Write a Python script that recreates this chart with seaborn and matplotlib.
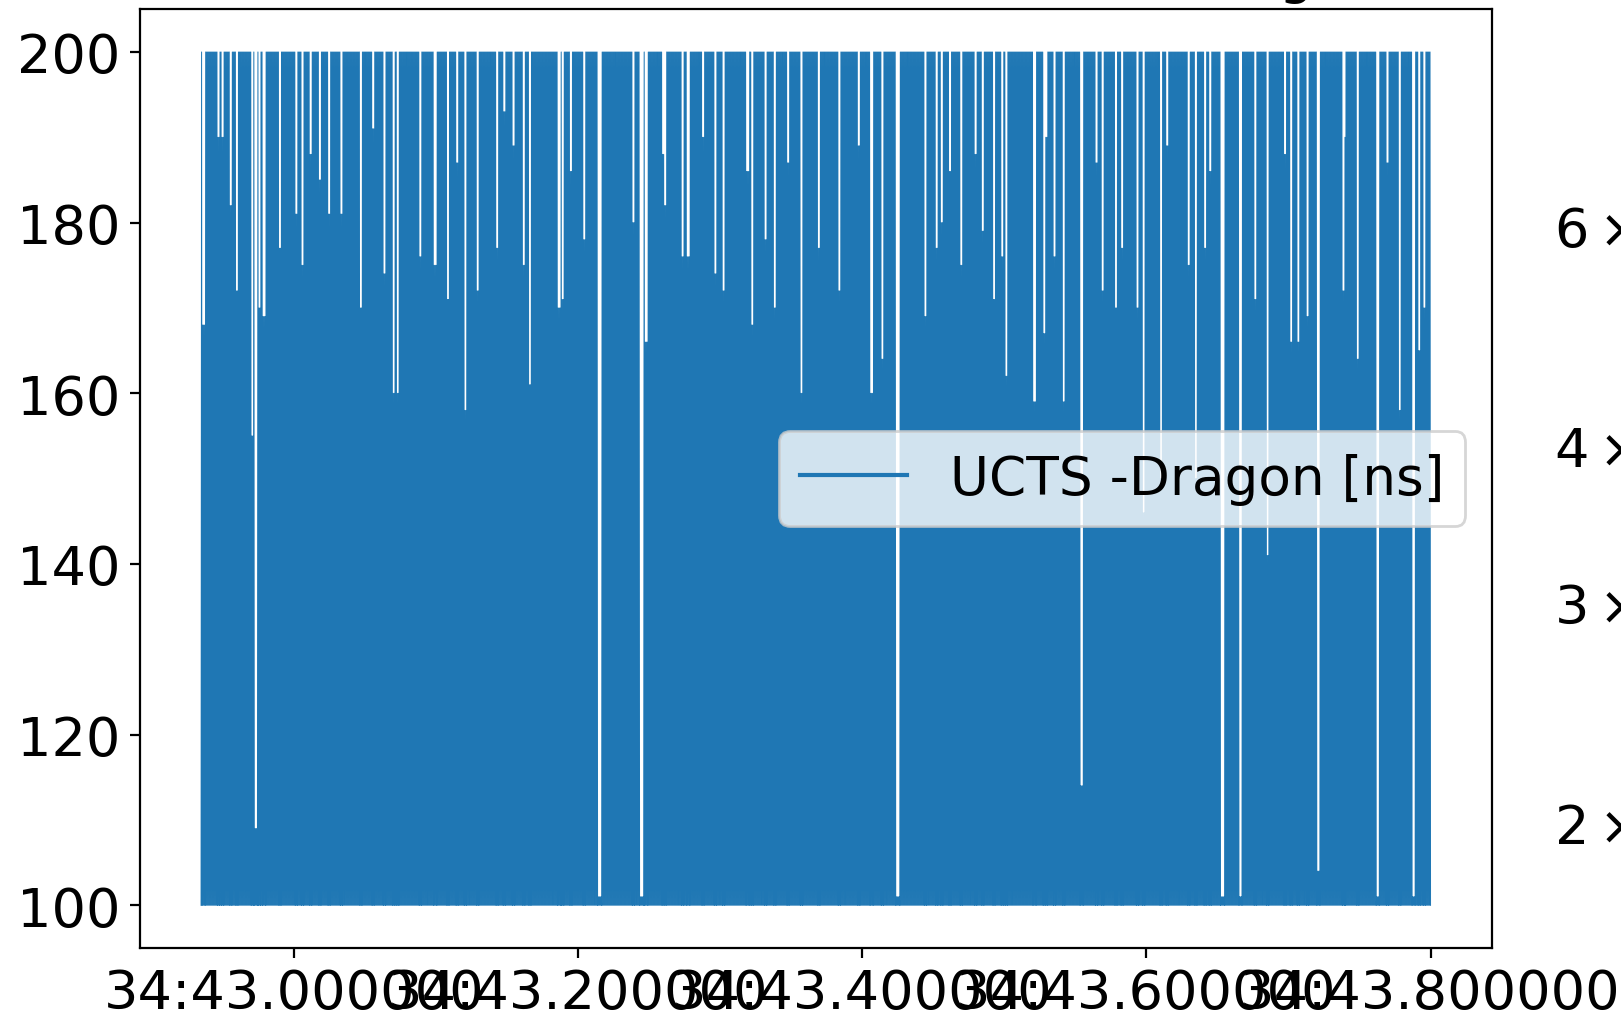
import numpy as np
import pandas as pd
import matplotlib
matplotlib.use("Agg")
import matplotlib.pyplot as plt
import seaborn as sns

# ------------------------------------------------------------------
# Data
# ------------------------------------------------------------------
t_first = "2019-11-21 23:34:42.9346"   # first sample
t_last = "2019-11-21 23:34:43.8000"    # last sample
n_peaks = 1200                          # estimated number of 100->200 excursions
level_low = 100                         # ns
level_high = 200                        # ns

# places (seconds within the minute) where the excursions do not reach 200 ns
notch_s = [42.9361, 42.9600, 42.9709, 42.9731, 42.9760, 42.9906, 43.0065,
           43.0254, 43.0472, 43.0705, 43.0734, 43.0995, 43.1213, 43.1431,
           43.1664, 43.1867, 43.2049, 43.2158, 43.2449, 43.2478, 43.2739,
           43.3030, 43.3321, 43.3575, 43.4069, 43.4251, 43.4447, 43.4701,
           43.4992, 43.5210, 43.5355, 43.5544, 43.5791, 43.5987, 43.6300,
           43.6539, 43.6663, 43.6859, 43.7026, 43.7208, 43.7390, 43.7629,
           43.7789, 43.7884, 43.7957,
           # finer streaks
           42.9471, 42.9560, 42.9788, 43.0020, 43.0183, 43.0340, 43.0642,
           43.0895, 43.1087, 43.1294, 43.1487, 43.1620, 43.1894, 43.2391,
           43.2614, 43.2777, 43.2970, 43.3192, 43.3228, 43.3385, 43.3696,
           43.3845, 43.4145, 43.4526, 43.4567, 43.4852, 43.4934, 43.5016,
           43.5288, 43.5423, 43.5696, 43.5832, 43.5941, 43.6104, 43.6349,
           43.6417, 43.6771, 43.7070, 43.7137, 43.7491, 43.7927,
           # shallow streaks along the top
           42.9500, 43.0120, 43.0560, 43.1150, 43.1550, 43.1950, 43.2600,
           43.2880, 43.3480, 43.3980, 43.4620, 43.4800, 43.5300, 43.5650,
           43.6150, 43.6450, 43.6980, 43.7400, 43.7700]
# highest value reached there (ns)
notch_peak = [168, 172, 155, 109, 170, 177, 175,
              181, 170, 160, 160, 175, 158, 177,
              161, 170, 178, 101, 101, 166, 176,
              172, 178, 160, 160, 101, 169, 175,
              176, 159, 176, 114, 170, 146, 175,
              101, 101, 141, 166, 104, 172, 101,
              158, 101, 170,
              190, 182, 169, 181, 185, 181, 174,
              176, 171, 172, 193, 175, 171, 180,
              182, 176, 174, 186, 168, 170, 177,
              172, 164, 177, 180, 179, 171, 162,
              167, 159, 172, 177, 170, 150, 150,
              177, 171, 166, 169, 164, 165,
              190, 188, 191, 187, 189, 186, 188,
              190, 187, 189, 186, 188, 190, 187,
              189, 186, 188, 190, 187]
# how many consecutive excursions are affected
notch_n = [3, 2, 2, 3, 2, 2, 2,
           2, 2, 2, 2, 3, 2, 2,
           2, 3, 2, 4, 4, 3, 2,
           2, 2, 2, 3, 4, 2, 2,
           2, 3, 2, 3, 2, 2, 2,
           4, 3, 2, 2, 3, 2, 3,
           2, 3, 2,
           2, 2, 3, 2, 2, 2, 2,
           2, 2, 2, 2, 2, 2, 2,
           2, 3, 2, 3, 2, 2, 2,
           2, 2, 2, 2, 2, 2, 2,
           2, 2, 2, 2, 2, 2, 2,
           2, 2, 2, 2, 2, 2,
           2, 2, 2, 2, 2, 2, 2,
           2, 2, 2, 2, 2, 2, 2,
           2, 2, 2, 2, 2]

legend_label = "UCTS -Dragon [ns]"
title_text = "Time difference, UCTS and Dragon"
right_ylim = (0.159, 0.894)   # neighbouring (log) panel, mostly cut off

# ------------------------------------------------------------------
# Build the series
# ------------------------------------------------------------------
n_samples = 2 * n_peaks + 1
vals = np.full(n_samples, float(level_low))
vals[1::2] = level_high
t0 = pd.Timestamp(t_first)
t1 = pd.Timestamp(t_last)
times = pd.date_range(t0, t1, periods=n_samples)
span = (t1 - t0).total_seconds()
sec0 = t0.second + t0.microsecond / 1e6
for s, pk, n in zip(notch_s, notch_peak, notch_n):
    pos = (s - sec0) / span * (n_samples - 1)
    k = int(round((pos - 1) / 2))
    start = k - n // 2
    for j in range(n):
        idx = 2 * (start + j) + 1
        if 0 < idx < n_samples:
            vals[idx] = min(vals[idx], pk)

df = pd.DataFrame({"time": times, "dt": vals})

# ------------------------------------------------------------------
# Figure
# ------------------------------------------------------------------
plt.rcParams.update({"font.size": 19.5, "font.family": ["DejaVu Sans"]})
W, H = 1621, 1020
dpi = 200
fig = plt.figure(figsize=(W / dpi, H / dpi), dpi=dpi)

left, right, top, bottom = 139.6, 1492.0, 10.3, 949.0
ax = fig.add_axes([left / W, 1 - bottom / H, (right - left) / W, (bottom - top) / H])

sns.lineplot(data=df, x="time", y="dt", ax=ax, color="#1f77b4",
             linewidth=0.36, estimator=None, sort=False, label=legend_label)
ax.set_xlabel("")
ax.set_ylabel("")
ax.set_yticks([100, 120, 140, 160, 180, 200])
leg = ax.legend(loc="center right", fontsize=19.2)
for ln in leg.get_lines():
    ln.set_linewidth(1.5)

# title, mostly above the visible area
fig.text(1381 / W, 1 + 7 / H, title_text, ha="right", va="baseline")

# neighbouring panel with log axis, only tick labels peek in
ax2 = fig.add_axes([1.2, 1 - bottom / H, 0.3, (bottom - top) / H])
ax2.set_yscale("log")
ax2.set_ylim(*right_ylim)
fig.canvas.draw()
r = fig.canvas.get_renderer()
lefts = [t.get_window_extent(r).x0 for t in ax2.get_yticklabels(minor=True)
         if t.get_text()]
lefts += [t.get_window_extent(r).x0 for t in ax2.get_yticklabels()
          if t.get_text() and 0 <= t.get_window_extent(r).y0 <= H]
if lefts:
    shift = min(lefts) - 1554
    pos = ax2.get_position()
    ax2.set_position([pos.x0 - shift / W, pos.y0, pos.width, pos.height])

fig.savefig("out.png", dpi=dpi)
